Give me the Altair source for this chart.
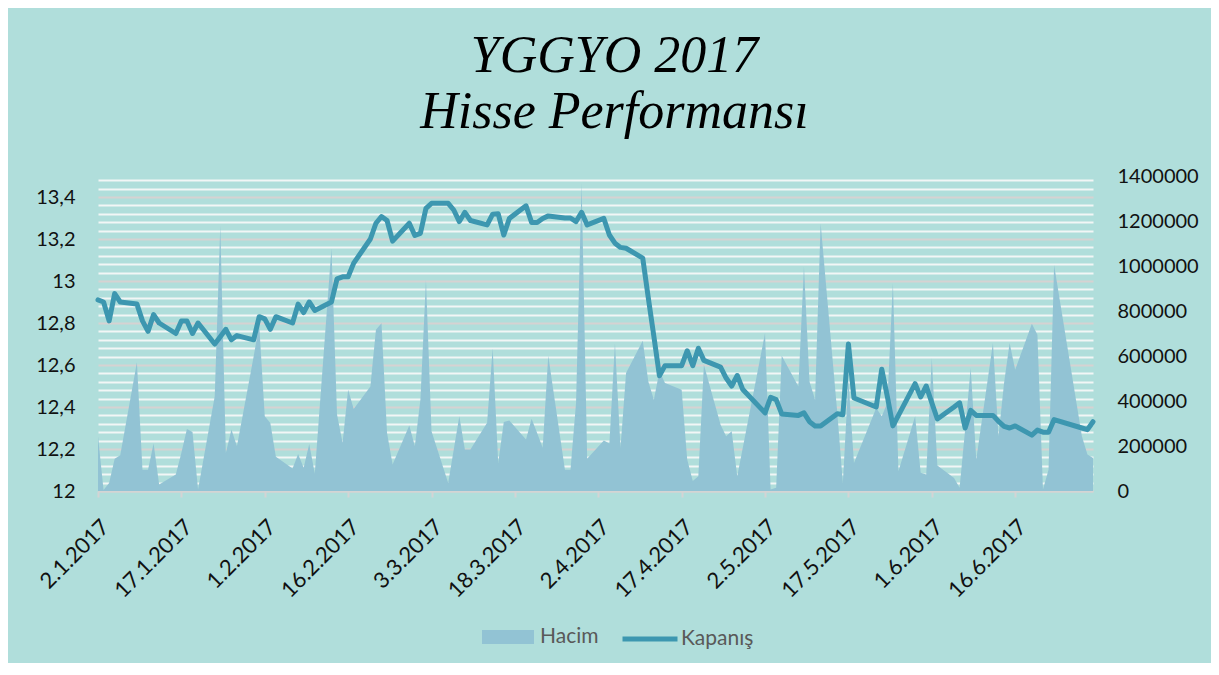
import altair as alt
import pandas as pd

# ---- data ----
jan_dates = ["2017-01-02", "2017-01-03", "2017-01-04", "2017-01-05", "2017-01-06",
             "2017-01-09", "2017-01-10", "2017-01-11", "2017-01-12", "2017-01-13",
             "2017-01-16", "2017-01-17", "2017-01-18", "2017-01-19", "2017-01-20",
             "2017-01-23", "2017-01-24", "2017-01-25", "2017-01-26", "2017-01-27",
             "2017-01-30", "2017-01-31"]
feb_dates = ["2017-02-01", "2017-02-02", "2017-02-03",
             "2017-02-06", "2017-02-07", "2017-02-08", "2017-02-09", "2017-02-10",
             "2017-02-13", "2017-02-14", "2017-02-15", "2017-02-16", "2017-02-17",
             "2017-02-20", "2017-02-21", "2017-02-22", "2017-02-23", "2017-02-24",
             "2017-02-27", "2017-02-28"]
mar_dates = ["2017-03-01", "2017-03-02", "2017-03-03",
             "2017-03-06", "2017-03-07", "2017-03-08", "2017-03-09", "2017-03-10",
             "2017-03-13", "2017-03-14", "2017-03-15", "2017-03-16", "2017-03-17",
             "2017-03-20", "2017-03-21", "2017-03-22", "2017-03-23", "2017-03-24",
             "2017-03-27", "2017-03-28", "2017-03-29", "2017-03-30", "2017-03-31"]
apr_dates = ["2017-04-03", "2017-04-04", "2017-04-05", "2017-04-06", "2017-04-07",
             "2017-04-10", "2017-04-11", "2017-04-12", "2017-04-13", "2017-04-14",
             "2017-04-17", "2017-04-18", "2017-04-19", "2017-04-20", "2017-04-21",
             "2017-04-24", "2017-04-25", "2017-04-26", "2017-04-27", "2017-04-28"]
may_dates = ["2017-05-02", "2017-05-03", "2017-05-04", "2017-05-05",
             "2017-05-08", "2017-05-09", "2017-05-10", "2017-05-11", "2017-05-12",
             "2017-05-15", "2017-05-16", "2017-05-17", "2017-05-18",
             "2017-05-22", "2017-05-23", "2017-05-24", "2017-05-25", "2017-05-26",
             "2017-05-29", "2017-05-30", "2017-05-31"]
jun_dates = ["2017-06-01", "2017-06-02",
             "2017-06-05", "2017-06-06", "2017-06-07", "2017-06-08", "2017-06-09",
             "2017-06-12", "2017-06-13", "2017-06-14", "2017-06-15", "2017-06-16",
             "2017-06-19", "2017-06-20", "2017-06-21", "2017-06-22", "2017-06-23",
             "2017-06-28", "2017-06-29", "2017-06-30"]

jan_close = [12.91, 12.90, 12.81, 12.94, 12.90, 12.89, 12.81, 12.76, 12.84, 12.80,
             12.75, 12.81, 12.81, 12.75, 12.80, 12.70, 12.735, 12.77, 12.72, 12.74,
             12.72, 12.83]
feb_close = [12.82, 12.77, 12.83, 12.80, 12.89, 12.85, 12.90, 12.86, 12.90, 13.01,
             13.02, 13.02, 13.085, 13.20, 13.275, 13.307, 13.288, 13.19, 13.275, 13.217]
mar_close = [13.227, 13.346, 13.37, 13.37, 13.338, 13.283, 13.327, 13.288, 13.267, 13.318,
             13.32, 13.219, 13.298, 13.358, 13.279, 13.279, 13.298, 13.31, 13.30, 13.30,
             13.283, 13.327, 13.267]
apr_close = [13.298, 13.219, 13.18, 13.16, 13.156, 13.109, 12.92, 12.736, 12.549, 12.597,
             12.597, 12.668, 12.597, 12.68, 12.622, 12.59, 12.538, 12.50, 12.55, 12.483]
may_close = [12.372, 12.446, 12.435, 12.367, 12.36, 12.372, 12.33, 12.31, 12.31, 12.368,
             12.363, 12.70, 12.443, 12.40, 12.58, 12.45, 12.31, 12.36, 12.511, 12.448, 12.50]
jun_close = [12.42, 12.343, 12.40, 12.42, 12.30, 12.384, 12.36, 12.36, 12.332, 12.308,
             12.30, 12.31, 12.266, 12.29, 12.28, 12.28, 12.34, 12.30, 12.292, 12.33]

jan_volume = [243000, 5000, 36000, 143000, 159000, 572000, 95000, 95000, 211000, 29000,
              73000, 170000, 276000, 262000, 7000, 421000, 1180000, 169000, 273000, 199000,
              598000, 739000]
feb_volume = [332000, 302000, 152000, 100000, 165000, 103000, 209000, 78000, 1079000, 340000,
              214000, 450000, 364000, 465000, 717000, 746000, 258000, 118000, 291000, 199000]
mar_volume = [406000, 938000, 266000, 36000, 184000, 332000, 184000, 184000, 303000, 635000,
              125000, 307000, 313000, 229000, 321000, 258000, 192000, 601000, 95000, 95000,
              391000, 1370000, 143000]
apr_volume = [225000, 211000, 657000, 192000, 524000, 668000, 487000, 406000, 532000, 480000,
              450000, 140000, 44000, 66000, 561000, 295000, 243000, 266000, 66000, 192000]
may_volume = [702000, 7000, 14000, 601000, 465000, 998000, 487000, 406000, 1190000, 347000,
              36000, 495000, 124000, 369000, 332000, 391000, 924000, 88000, 332000, 81000, 73000]
jun_volume = [591000, 113000, 58000, 14000, 273000, 547000, 140000, 658000, 243000, 480000,
              658000, 539000, 743000, 695000, 7000, 95000, 1005000, 243000, 162000, 147000]

title_lines = ["YGGYO 2017", "Hisse Performansı"]
series_names = ["Hacim", "Kapanış"]
price_ticks = [12.0, 12.2, 12.4, 12.6, 12.8, 13.0, 13.2, 13.4]
volume_ticks = [0, 200000, 400000, 600000, 800000, 1000000, 1200000, 1400000]
date_ticks = [(1, 2), (1, 17), (2, 1), (2, 16), (3, 3), (3, 18), (4, 2),
              (4, 17), (5, 2), (5, 17), (6, 1), (6, 16)]

# ---- build table ----
dates = jan_dates + feb_dates + mar_dates + apr_dates + may_dates + jun_dates
close = jan_close + feb_close + mar_close + apr_close + may_close + jun_close
volume = jan_volume + feb_volume + mar_volume + apr_volume + may_volume + jun_volume
df = pd.DataFrame({"date": dates, "close": close, "volume": volume})

# minor gridlines every 0.04 (major every 0.2)
grid_values = [round(12 + 0.04 * i, 2) for i in range(38)]

BG = "#b0dedb"
AREA = "#92c3d4"
LINE = "#3d97b0"
FONT = "Lato"

x_enc = alt.X(
    "date:T",
    title=None,
    scale=alt.Scale(
        type="utc",
        domain=[alt.DateTime(year=2017, month=1, date=2, utc=True),
                alt.DateTime(year=2017, month=6, date=30, utc=True)],
    ),
    axis=alt.Axis(
        values=[alt.DateTime(year=2017, month=m, date=d, utc=True) for m, d in date_ticks],
        labelExpr="utcFormat(datum.value, '%-d.%-m.%Y')",
        labelAngle=-45,
        labelFontSize=22,
        labelFont=FONT,
        labelColor="#111111",
        labelPadding=19,
        tickColor="#d4d4d4",
        tickWidth=2,
        tickSize=6,
        domainColor="#d4d4d4",
        domainWidth=2,
        grid=False,
        labelOverlap=False,
        labelFlush=False,
    ),
)

area = (
    alt.Chart(df)
    .transform_calculate(s="'Hacim'")
    .mark_area(color=AREA, opacity=1)
    .encode(
        x=x_enc,
        y=alt.Y(
            "volume:Q",
            title=None,
            scale=alt.Scale(domain=[0, 1400000], nice=False),
            axis=alt.Axis(
                orient="right",
                values=volume_ticks,
                format="d",
                grid=False,
                ticks=False,
                domain=False,
                labelPadding=24,
                labelFontSize=20,
                labelFont=FONT,
                labelColor="#111111",
                labelFlush=False,
                labelOverlap=False,
            ),
        ),
        color=alt.Color(
            "s:N",
            scale=alt.Scale(domain=[series_names[0]], range=[AREA]),
            legend=alt.Legend(
                title=None,
                orient="none",
                legendX=383,
                legendY=434,
                symbolType="M-1,-0.27L1,-0.27L1,0.27L-1,0.27Z",
                symbolSize=2704,
                symbolOpacity=1,
                labelFont=FONT,
                labelFontSize=21,
                labelColor="#595959",
                labelOffset=5,
                padding=0,
            ),
        ),
    )
)

line = (
    alt.Chart(df)
    .transform_calculate(s="'Kapanış'")
    .mark_line(color=LINE, strokeWidth=5, strokeJoin="round", strokeCap="round")
    .encode(
        x=x_enc,
        y=alt.Y(
            "close:Q",
            title=None,
            scale=alt.Scale(domain=[12, 13.5], nice=False, zero=False),
            axis=alt.Axis(
                orient="left",
                values=grid_values,
                labelExpr="abs(datum.value*5 - round(datum.value*5)) < 0.001 ? replace(format(datum.value, '.3~r'), '.', ',') : ''",
                grid=True,
                gridColor=alt.condition(
                    "abs(datum.value*5 - round(datum.value*5)) < 0.001",
                    alt.value("#d6d2d2"),
                    alt.value("#f2f6f6"),
                ),
                gridWidth=2,
                ticks=False,
                domain=False,
                labelPadding=23,
                labelFontSize=20,
                labelFont=FONT,
                labelColor="#111111",
                labelFlush=False,
                labelOverlap=False,
            ),
        ),
        color=alt.Color(
            "s:N",
            scale=alt.Scale(domain=[series_names[1]], range=[LINE]),
            legend=alt.Legend(
                title=None,
                orient="none",
                legendX=522,
                legendY=433,
                symbolType="stroke",
                symbolSize=3025,
                symbolStrokeWidth=5,
                labelFont=FONT,
                labelFontSize=21,
                labelColor="#595959",
                labelOffset=1,
                padding=0,
            ),
        ),
    )
)

chart = (
    alt.layer(area, line)
    .resolve_scale(y="independent", color="independent")
    .resolve_legend(color="independent")
    .properties(
        width=995,
        height=315,
        autosize=alt.AutoSizeParams(type="none"),
        padding={"left": 90, "top": 168, "right": 118, "bottom": 172},
        background=BG,
        title=alt.TitleParams(
            text=title_lines,
            font="Liberation Serif",
            fontStyle="italic",
            fontWeight="normal",
            fontSize=52,
            lineHeight=56,
            color="#000000",
            anchor="middle",
            frame="group",
            dx=19,
            offset=27,
        ),
    )
    .configure_view(strokeWidth=0)
)

chart.save("out.html", embed_options={"renderer": "svg", "actions": False})
